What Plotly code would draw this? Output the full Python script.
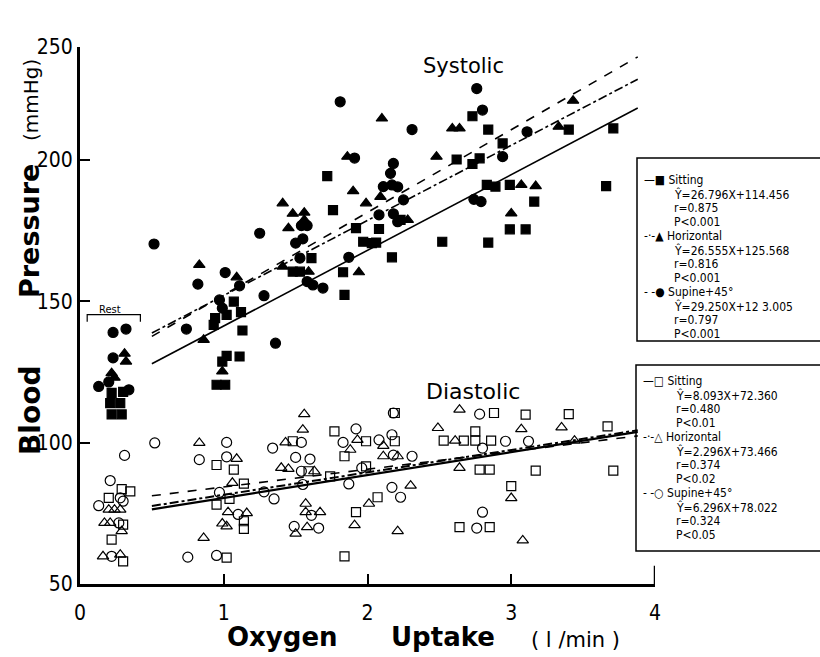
import plotly.graph_objects as go

# ---------------- data ----------------
# Systolic, sitting (filled squares)
sys_sit_x = [0.22, 0.30, 0.21, 0.28, 0.22, 0.29,
             1.72, 1.76, 1.92, 2.08, 1.97, 2.03, 2.06, 2.17, 1.61, 1.48, 1.53, 1.83, 1.84,
             1.07, 0.94, 1.02, 1.12, 0.93, 1.13, 1.02, 1.11, 0.99, 0.95, 1.01,
             2.73, 2.84, 3.40, 3.71, 2.94, 2.62, 2.78, 2.73, 2.83, 2.89, 2.99, 3.66, 3.16,
             2.23, 2.99, 3.10, 2.52, 2.84]
sys_sit_y = [117.6, 118.0, 114.0, 114.0, 110.0, 110.0,
             194.3, 182.3, 175.9, 175.6, 171.1, 170.6, 170.8, 165.6, 165.3, 160.5, 160.5, 160.3, 152.3,
             149.9, 144.1, 145.2, 146.2, 141.7, 139.7, 130.7, 130.5, 128.7, 120.5, 120.5,
             215.5, 210.8, 210.8, 211.2, 205.9, 200.2, 200.6, 198.6, 191.2, 190.6, 191.2, 190.8, 185.3,
             178.8, 175.5, 175.5, 171.1, 170.8]

# Systolic, horizontal (filled triangles)
sys_hor_x = [0.32, 0.31, 0.22, 0.24,
             2.10, 1.86, 1.90, 2.09, 1.99, 1.41, 1.48, 1.56, 1.56, 1.45, 1.41, 1.59, 1.94,
             0.83, 1.09, 0.86, 0.99, 2.59, 2.64, 3.43, 3.33, 2.48, 3.07, 3.17, 3.00, 2.28]
sys_hor_y = [128.7, 131.5, 124.6, 123.0,
             214.7, 201.2, 189.0, 187.0, 184.7, 184.7, 181.0, 181.4, 178.8, 175.9, 162.3, 160.5, 160.3,
             162.9, 158.5, 136.4, 125.2, 211.2, 211.2, 221.0, 211.8, 201.2, 191.2, 190.8, 181.1, 178.8]

# Systolic, supine +45 deg (filled circles)
sys_sup_x = [0.32, 0.23, 0.23, 0.13, 0.20, 0.34,
             0.515, 1.81, 1.91, 2.18, 2.16, 2.11, 2.17, 2.21, 2.08, 2.18, 2.21, 1.54, 1.58, 1.25,
             1.50, 1.55, 1.87, 1.53, 1.58, 1.62, 1.69, 1.01, 0.82, 1.11, 1.28, 0.97, 0.99,
             0.74, 1.36, 2.76, 2.80, 2.31, 3.11, 2.94, 2.25, 2.74, 2.79]
sys_sup_y = [140.2, 139.0, 130.0, 119.9, 121.5, 118.7,
             170.3, 220.6, 200.7, 198.8, 195.3, 190.6, 191.2, 190.5, 180.6, 181.0, 178.2, 176.8, 176.8, 174.1,
             170.6, 172.1, 165.6, 165.3, 157.0, 155.8, 154.7, 160.2, 156.1, 155.5, 152.0, 150.5, 147.6,
             140.2, 135.2, 225.3, 217.7, 210.8, 210.0, 201.2, 185.9, 186.1, 185.3]

# Diastolic, sitting (open squares)
dia_sit_x = [0.29, 0.35, 0.20, 0.30, 0.22, 0.30,
             0.95, 1.07, 1.14, 0.95, 1.04, 1.14, 1.14, 1.02, 1.48, 1.59, 1.77, 1.84, 1.99, 1.74,
             1.99, 1.92, 1.84, 2.19, 2.19, 2.07, 2.88, 3.10, 3.40, 3.67, 2.53, 2.67, 2.75, 2.75,
             2.86, 2.78, 2.85, 3.17, 3.71, 3.00, 2.64, 2.85]
dia_sit_y = [83.6, 82.8, 80.5, 71.0, 65.7, 58.0,
             92.1, 90.5, 85.5, 78.1, 80.1, 72.2, 69.5, 59.3, 100.5, 89.9, 104.0, 95.2, 100.5, 88.1,
             91.6, 75.4, 59.8, 110.5, 100.5, 80.7, 110.5, 109.9, 110.1, 105.8, 100.7, 100.7, 104.0, 100.7,
             100.7, 90.5, 90.5, 90.1, 90.1, 84.6, 70.1, 70.1]

# Diastolic, horizontal (open triangles)
dia_hor_x = [0.20, 0.24, 0.28, 0.17, 0.21, 0.29, 0.16, 0.28,
             0.83, 1.09, 1.06, 1.03, 1.16, 0.99, 1.02, 0.86, 1.43, 1.56, 1.55, 1.40, 1.45, 1.63,
             1.57, 1.57, 1.67, 1.58, 1.50, 1.88, 1.93, 1.91, 2.11, 2.11, 2.01, 2.21, 2.49, 2.64,
             3.07, 3.35, 2.21, 2.61, 3.44, 2.64, 2.30, 3.00, 3.08]
dia_hor_y = [76.3, 76.3, 76.3, 71.6, 71.6, 68.7, 59.8, 60.4,
             99.9, 94.3, 85.8, 75.4, 75.1, 71.4, 70.4, 66.3, 100.1, 110.1, 104.6, 91.1, 90.7, 89.9,
             78.4, 75.4, 75.4, 70.1, 67.8, 97.5, 101.0, 70.8, 98.9, 95.2, 78.4, 68.7, 105.2, 111.7,
             104.8, 105.4, 95.2, 100.7, 100.7, 91.1, 84.8, 80.4, 65.4]

# Diastolic, supine +45 deg (open circles)
dia_sup_x = [0.31, 0.21, 0.28, 0.30, 0.13, 0.27, 0.22,
             0.52, 1.02, 0.83, 1.02, 0.97, 1.10, 0.75, 0.95, 1.34, 1.54, 1.50, 1.60, 1.54, 1.28,
             1.35, 1.55, 1.61, 1.66, 1.49, 1.92, 1.83, 1.96, 1.87, 2.08, 2.18, 2.17, 2.17, 2.23,
             2.18, 2.78, 2.80, 2.96, 3.12, 2.31, 2.80, 2.76]
dia_sup_y = [95.5, 86.6, 80.5, 79.3, 77.7, 71.6, 59.8,
             99.9, 100.1, 94.0, 95.0, 82.4, 74.6, 59.5, 60.1, 98.1, 100.1, 94.8, 94.2, 89.9, 82.6,
             80.1, 85.2, 74.3, 69.8, 70.4, 104.9, 100.1, 91.1, 85.4, 101.0, 110.5, 102.8, 84.2, 80.7,
             95.6, 110.1, 98.1, 100.5, 100.5, 95.2, 75.4, 69.8]

# Regression line end points
reg_x = [0.5, 3.88]
sys_sit_line = [127.9, 218.4]
sys_hor_line = [138.8, 228.6]
sys_sup_line = [137.6, 236.5]
dia_sit_line = [76.4, 103.8]
dia_hor_line = [77.6, 104.4]
dia_sup_line = [81.2, 102.4]

# Axis ticks
x_ticks = [0, 1, 2, 3, 4]
y_tickvals = [50, 100, 150, 200, 240]
y_ticktext = ["50", "100", "150", "200", "250"]

# Legend texts
sys_legend = ["—■ Sitting", "Ŷ=26.796X+114.456", "r=0.875", "P<0.001",
              "-·-▲ Horizontal", "Ŷ=26.555X+125.568", "r=0.816", "P<0.001",
              "- -● Supine+45°", "Ŷ=29.250X+12 3.005", "r=0.797", "P<0.001"]
dia_legend = ["—□ Sitting", "Ŷ=8.093X+72.360", "r=0.480", "P<0.01",
              "-·-△ Horizontal", "Ŷ=2.296X+73.466", "r=0.374", "P<0.02",
              "- -○ Supine+45°", "Ŷ=6.296X+78.022", "r=0.324", "P<0.05"]

# ---------------- figure ----------------
W, H = 820, 657
L, R, T, B = 80, 165, 47, 73
PW, PH = W - L - R, H - T - B

def px(xp):
    return (xp - L) / PW

def py(yp):
    return (H - B - yp) / PH

COND = "DejaVu Sans Condensed, Liberation Sans Narrow, DejaVu Sans, sans-serif"
BOLD = "DejaVu Sans, sans-serif"

fig = go.Figure()

def add_line(yv, dash, width):
    fig.add_trace(go.Scatter(x=reg_x, y=yv, mode="lines",
                             line=dict(color="black", width=width, dash=dash),
                             showlegend=False, hoverinfo="skip"))

add_line(sys_sit_line, "solid", 1.6)
add_line(sys_hor_line, "dashdot", 1.6)
add_line(sys_sup_line, "dash", 1.6)
add_line(dia_sit_line, "solid", 2.2)
add_line(dia_hor_line, "dashdot", 2.0)
add_line(dia_sup_line, "dash", 1.6)

def add_pts(xs, ys, symbol, size, lw=1.2):
    fig.add_trace(go.Scatter(x=xs, y=ys, mode="markers",
                             marker=dict(symbol=symbol, size=size, color="black",
                                         line=dict(color="black", width=lw)),
                             showlegend=False, hoverinfo="skip"))

add_pts(sys_sit_x, sys_sit_y, "square", 9)
add_pts(sys_hor_x, sys_hor_y, "triangle-up", 10)
add_pts(sys_sup_x, sys_sup_y, "circle", 10)
add_pts(dia_sit_x, dia_sit_y, "square-open", 9)
add_pts(dia_hor_x, dia_hor_y, "triangle-up-open", 10)
add_pts(dia_sup_x, dia_sup_y, "circle-open", 10)

ann = []

def text(t, xp, yp, size, fam, xanchor="center", angle=0):
    ann.append(dict(x=px(xp), y=py(yp), xref="paper", yref="paper", text=t,
                    xanchor=xanchor, yanchor="middle", textangle=angle,
                    showarrow=False, font=dict(family=fam, size=size, color="black")))

# Series labels
text("Systolic", 463, 66, 21, BOLD)
text("Diastolic", 473, 392, 22, BOLD)
text("Rest", 110, 309, 11, COND)

# Axis titles
text("<b>Oxygen</b>", 282, 637, 26, BOLD)
text("<b>Uptake</b>", 443, 637, 26, BOLD)
text("( l /min )", 575, 640, 21, BOLD)
text("<b>Blood</b>", 30, 411, 28, BOLD, angle=-90)
text("<b>Pressure</b>", 30, 231, 27, BOLD, angle=-90)
text("(mmHg)", 31, 100, 20, BOLD, angle=-90)

# Legend texts
sys_rows_y = [180, 194, 208, 222, 236, 250, 264, 278, 292, 306, 320, 334]
dia_rows_y = [381, 395, 409, 423, 437, 451, 465, 479, 493, 507, 521, 535]
for i, t in enumerate(sys_legend):
    text(t, 642 if i % 4 == 0 else 672, sys_rows_y[i], 12, COND, xanchor="left")
for i, t in enumerate(dia_legend):
    text(t, 641 if i % 4 == 0 else 674, dia_rows_y[i], 12, COND, xanchor="left")

shapes = [
    # legend boxes
    dict(type="rect", xref="paper", yref="paper", x0=px(637), x1=px(860), y0=py(341), y1=py(158),
         line=dict(color="black", width=1.5)),
    dict(type="rect", xref="paper", yref="paper", x0=px(636), x1=px(860), y0=py(551), y1=py(365),
         line=dict(color="black", width=1.5)),
    # Rest bracket
    dict(type="path", xref="x", yref="y", path="M 0.05,142.8 L 0.05,145.3 L 0.42,145.3 L 0.42,142.8",
         line=dict(color="black", width=1.2)),
    # taller end tick at 4
    dict(type="line", xref="x", yref="y", x0=4, x1=4, y0=50, y1=56.5,
         line=dict(color="black", width=2.5)),
]

fig.update_layout(
    width=W, height=H, autosize=False,
    margin=dict(l=L, r=R, t=T, b=B),
    paper_bgcolor="white", plot_bgcolor="white",
    annotations=ann, shapes=shapes,
    xaxis=dict(range=[0, 4], tickvals=x_ticks, ticktext=[str(v) for v in x_ticks],
               showgrid=False, zeroline=False, showline=True, linecolor="black", linewidth=3,
               ticks="inside", ticklen=10, tickwidth=2, tickcolor="black",
               ticklabelstandoff=8,
               tickfont=dict(family=COND, size=21, color="black")),
    yaxis=dict(range=[50, 240], tickvals=y_tickvals, ticktext=y_ticktext,
               showgrid=False, zeroline=False, showline=True, linecolor="black", linewidth=3,
               ticks="inside", ticklen=10, tickwidth=2, tickcolor="black",
               tickfont=dict(family=COND, size=21, color="black")),
)

fig.write_html("out.html")
